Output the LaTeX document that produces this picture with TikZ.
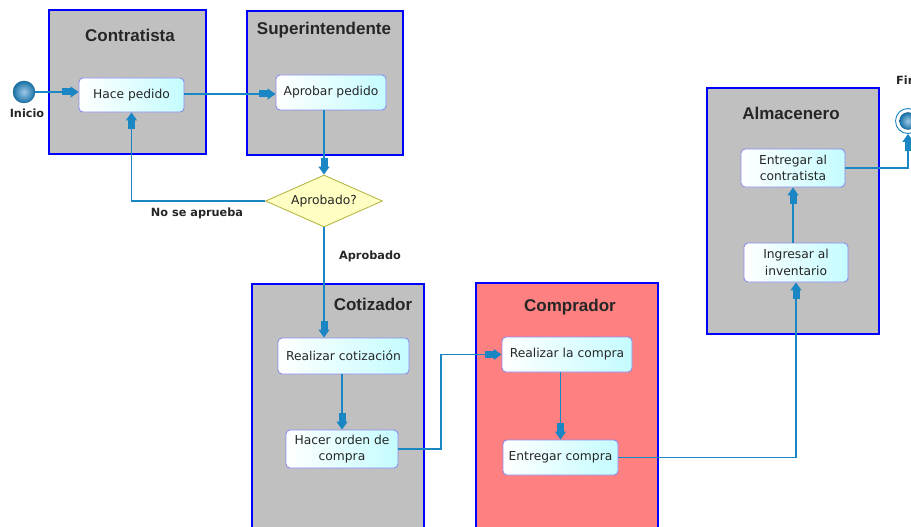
\documentclass[tikz,border=0pt]{standalone}
\usepackage{fontspec}
\setmainfont{DejaVu Sans}
\newfontfamily\titlefont{Liberation Sans}
\usetikzlibrary{arrows.meta,shapes.geometric,calc}

\definecolor{lanegray}{HTML}{C0C0C0}
\definecolor{laneblue}{HTML}{0000FF}
\definecolor{buyerred}{HTML}{FF8080}
\definecolor{flowblue}{HTML}{1A86C4}
\definecolor{actborder}{HTML}{8C8CF0}
\definecolor{actcyan}{HTML}{C4FCFF}
\definecolor{decfill}{HTML}{FFFFC4}
\definecolor{decborder}{HTML}{B8B848}

\tikzset{
  lane/.style={draw=laneblue, fill=lanegray, line width=1.4pt},
  buyerlane/.style={lane, fill=buyerred},
  lanetitle/.style={font=\titlefont\bfseries\fontsize{17}{19}\selectfont, text=black!85},
  activity/.style={draw=actborder, rounded corners=4pt, line width=0.9pt,
    left color=white, right color=actcyan, align=center, inner sep=2pt,
    font=\fontsize{12.3}{16.5}\selectfont, text=black!85},
  decision/.style={diamond, draw=decborder, fill=decfill, line width=0.9pt,
    aspect=2.25, inner sep=0pt, minimum width=117pt, minimum height=52pt,
    font=\fontsize{12.3}{14}\selectfont, text=black!85},
  flowlabel/.style={font=\bfseries\fontsize{11.3}{13}\selectfont, text=black!85},
  flow/.style={draw=flowblue, line width=1.3pt,
    -{Rectangle[length=9pt,width=7pt]Triangle[length=8pt,width=11pt]}},
  startstate/.style={circle, minimum size=22pt, inner sep=0pt,
    draw=flowblue!70!black, line width=0.4pt,
    inner color={rgb,255:red,160;green,200;blue,230}, outer color=flowblue!85!black},
}

\begin{document}
\begin{tikzpicture}[x=1pt, y=-1pt]
  \useasboundingbox (0,0) rectangle (911,527);
  \clip (0,0) rectangle (911,527);

  % role boxes
  \path[lane] (49,10) rectangle (206,154);
  \path[lane] (247,11) rectangle (403,155);
  \path[lane] (252,284) rectangle (424,540);
  \path[buyerlane] (476,283) rectangle (658,540);
  \path[lane] (707,88) rectangle (879,334);

  \node[lanetitle] (tContr) at (130,35) {Contratista};
  \node[lanetitle] (tSuper) at (324,30) {Superintendente};
  \node[lanetitle] (tCotiz) at (373,304) {Cotizador};
  \node[lanetitle] (tCompr) at (570,307) {Comprador};
  \node[lanetitle] (tAlmac) at (791,113) {Almacenero};

  % activities
  \node[activity, minimum width=105pt, minimum height=34pt] (hace) at (131.5,95) {Hace pedido};
  \node[activity, minimum width=110pt, minimum height=35pt] (aprob) at (331,92.5) {Aprobar pedido};
  \node[decision] (dec) at (324,201) {Aprobado?};
  \node[activity, minimum width=131pt, minimum height=36pt] (cotiz) at (343.5,356) {Realizar cotización};
  \node[activity, minimum width=112pt, minimum height=38pt] (orden) at (342,449) {Hacer orden de\\compra};
  \node[activity, minimum width=130pt, minimum height=35pt] (compra) at (567,354.5) {Realizar la compra};
  \node[activity, minimum width=115pt, minimum height=35pt] (entc) at (560.5,457.5) {Entregar compra};
  \node[activity, minimum width=104pt, minimum height=38pt] (entcon) at (793,168) {Entregar al\\contratista};
  \node[activity, minimum width=104pt, minimum height=39pt] (ingr) at (796,262.5) {Ingresar al\\inventario};

  % initial and final states
  \node[startstate] (ini) at (24,92) {};
  \node[flowlabel] (iniLbl) at (27,113) {Inicio};
  \node[circle, draw=flowblue, line width=0.9pt, fill=white, minimum size=25pt, inner sep=0pt] (fin) at (908,121) {};
  \node[startstate, minimum size=17pt] (finCore) at (fin.center) {};
  \node[flowlabel] (finLbl) at (906,80) {Fin};

  % routing point
  \coordinate (j1) at (441,0);

  % control flows
  \draw[flow] (ini.east) -- (ini.east -| hace.west);
  \draw[flow] (hace.east |- 0,94) -- (aprob.west |- 0,94);
  \draw[flow] (dec.north |- aprob.south) -- (dec.north);
  \draw[flow] (dec.west) -| (hace.south);
  \draw[flow] (dec.south) -- (dec.south |- cotiz.north);
  \draw[flow] (orden.north |- cotiz.south) -- (orden.north);
  \draw[flow] (orden.east) -- (orden.east -| j1) |- (compra.west);
  \draw[flow] (entc.north |- compra.south) -- (entc.north);
  \draw[flow] (entc.east) -| (ingr.south);
  \draw[flow] (entcon.south |- ingr.north) -- (entcon.south);
  \draw[flow] (entcon.east) -| (fin.south);

  % guard labels
  \node[flowlabel] (noLbl) at (197,213) {No se aprueba};
  \node[flowlabel] (siLbl) at (370,256) {Aprobado};
\end{tikzpicture}
\end{document}
